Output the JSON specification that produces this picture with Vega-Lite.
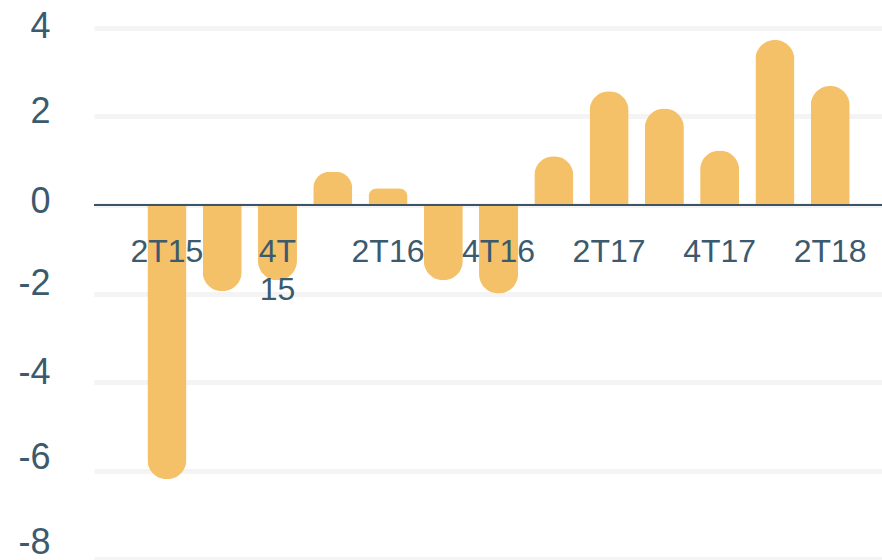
{
  "$schema": "https://vega.github.io/schema/vega-lite/v6.json",
  "width": 788,
  "height": 531,
  "autosize": {"type": "none"},
  "padding": {"left": 94, "top": 28, "right": 0, "bottom": 1},
  "background": "white",
  "config": {"view": {"stroke": null}, "font": "Liberation Sans"},
  "data": {
    "values": [
      {"quarter": "2T15", "value": -6.2, "label": "2T15"},
      {"quarter": "3T15", "value": -1.95, "label": ""},
      {"quarter": "4T15", "value": -1.7, "label": "4T\n15"},
      {"quarter": "1T16", "value": 0.75, "label": ""},
      {"quarter": "2T16", "value": 0.38, "label": "2T16"},
      {"quarter": "3T16", "value": -1.7, "label": ""},
      {"quarter": "4T16", "value": -2.0, "label": "4T16"},
      {"quarter": "1T17", "value": 1.1, "label": ""},
      {"quarter": "2T17", "value": 2.57, "label": "2T17"},
      {"quarter": "3T17", "value": 2.18, "label": ""},
      {"quarter": "4T17", "value": 1.23, "label": "4T17"},
      {"quarter": "1T18", "value": 3.73, "label": ""},
      {"quarter": "2T18", "value": 2.69, "label": "2T18"}
    ]
  },
  "encoding": {
    "x": {
      "field": "quarter",
      "type": "nominal",
      "sort": ["2T15", "3T15", "4T15", "1T16", "2T16", "3T16", "4T16", "1T17", "2T17", "3T17", "4T17", "1T18", "2T18"],
      "scale": {"paddingInner": 0.294, "paddingOuter": 0.7755, "align": 0.623},
      "axis": null
    },
    "y": {
      "field": "value",
      "type": "quantitative",
      "scale": {"domain": [-8, 4], "nice": false},
      "axis": {
        "values": [-8, -6, -4, -2, 0, 2, 4],
        "labelExpr": "'' + datum.value",
        "domain": false,
        "ticks": false,
        "labelFontSize": 36,
        "labelColor": "#3B5A6D",
        "labelFont": "Liberation Sans",
        "labelPadding": 44,
        "labelOffset": {
          "condition": [
            {"test": "datum.value == -8", "value": -17},
            {"test": "datum.value == -6", "value": -13},
            {"test": "datum.value == -4", "value": -10},
            {"test": "datum.value == -2", "value": -10},
            {"test": "datum.value == 0", "value": -4},
            {"test": "datum.value == 2", "value": -5}
          ],
          "value": -2
        },
        "gridColor": "#F4F4F4",
        "gridWidth": 5,
        "title": null
      }
    }
  },
  "layer": [
    {
      "transform": [{"filter": "datum.value >= 0"}],
      "mark": {"type": "bar", "color": "#F4C068", "cornerRadiusTopLeft": 19.5, "cornerRadiusTopRight": 19.5}
    },
    {
      "transform": [{"filter": "datum.value < 0"}],
      "mark": {"type": "bar", "color": "#F4C068", "cornerRadiusBottomLeft": 19.5, "cornerRadiusBottomRight": 19.5}
    },
    {
      "mark": {"type": "rule", "color": "#3D5566", "strokeWidth": 1},
      "encoding": {"x": null, "y": {"datum": 0}}
    },
    {
      "mark": {"type": "text", "fontSize": 32, "color": "#3B5A6D", "baseline": "top", "dy": 32, "lineBreak": "\n", "lineHeight": 38, "font": "Liberation Sans"},
      "encoding": {
        "y": {"datum": 0},
        "text": {"field": "label"}
      }
    }
  ]
}
